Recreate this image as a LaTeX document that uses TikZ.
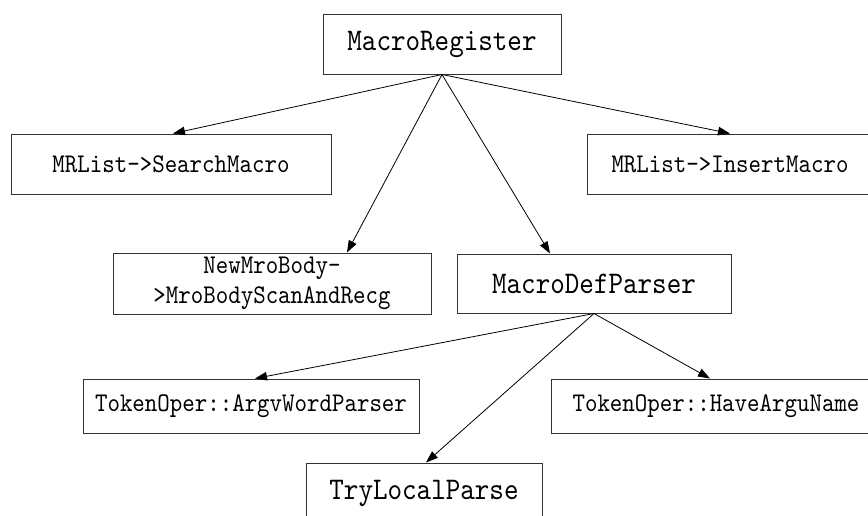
\documentclass[tikz,border=0pt]{standalone}
\usepackage{fontspec}
\setmonofont{lmmono10-regular.otf}[FakeStretch=0.88]
\usetikzlibrary{arrows.meta}
\begin{document}
\begin{tikzpicture}[x=1pt,y=-1pt,
  box/.style={draw=black!80,line width=1pt,rectangle,inner sep=0pt,
    align=center,font=\ttfamily\fontsize{27}{30}\selectfont},
  bigbox/.style={box,font=\ttfamily\fontsize{31.5}{34}\selectfont},
  link/.style={draw=black,line width=0.8pt,-{Triangle[length=12pt,width=8.5pt]}}]
  % page frame
  \fill[white] (0,0) rectangle (868,515);
  \useasboundingbox (0,0) rectangle (868,515);

  % first level
  \node[bigbox,minimum width=238pt,minimum height=60pt] (reg) at (442,44) {MacroRegister};

  % second level
  \node[box,minimum width=320pt,minimum height=60pt] (search) at (171,164) {MRList->SearchMacro};
  \node[box,minimum width=286pt,minimum height=60pt] (insert) at (730,164) {MRList->InsertMacro};

  % third level
  \node[box,minimum width=318pt,minimum height=61pt] (newmro) at (272,283.5) {NewMroBody-\\>MroBodyScanAndRecg};
  \node[bigbox,minimum width=274pt,minimum height=59pt] (defp) at (594,283.5) {MacroDefParser};

  % fourth level
  \node[box,minimum width=336pt,minimum height=54pt] (argv) at (251,406) {TokenOper::ArgvWordParser};
  \node[box,minimum width=330pt,minimum height=54pt] (have) at (716,406) {TokenOper::HaveArguName};
  \node[bigbox,minimum width=236pt,minimum height=60pt] (try) at (424,493) {TryLocalParse};

  % connectors
  \draw[link] (reg.south) -- ([xshift=2pt]search.north);
  \draw[link] (reg.south) -- (insert.north);
  \draw[link] (reg.south) -- ([xshift=75pt]newmro.north);
  \draw[link] (reg.south) -- ([xshift=-44pt]defp.north);
  \draw[link] (defp.south) -- ([xshift=4pt]argv.north);
  \draw[link] (defp.south) -- ([xshift=2pt]try.north);
  \draw[link] (defp.south) -- ([xshift=-6pt]have.north);
\end{tikzpicture}
\end{document}
